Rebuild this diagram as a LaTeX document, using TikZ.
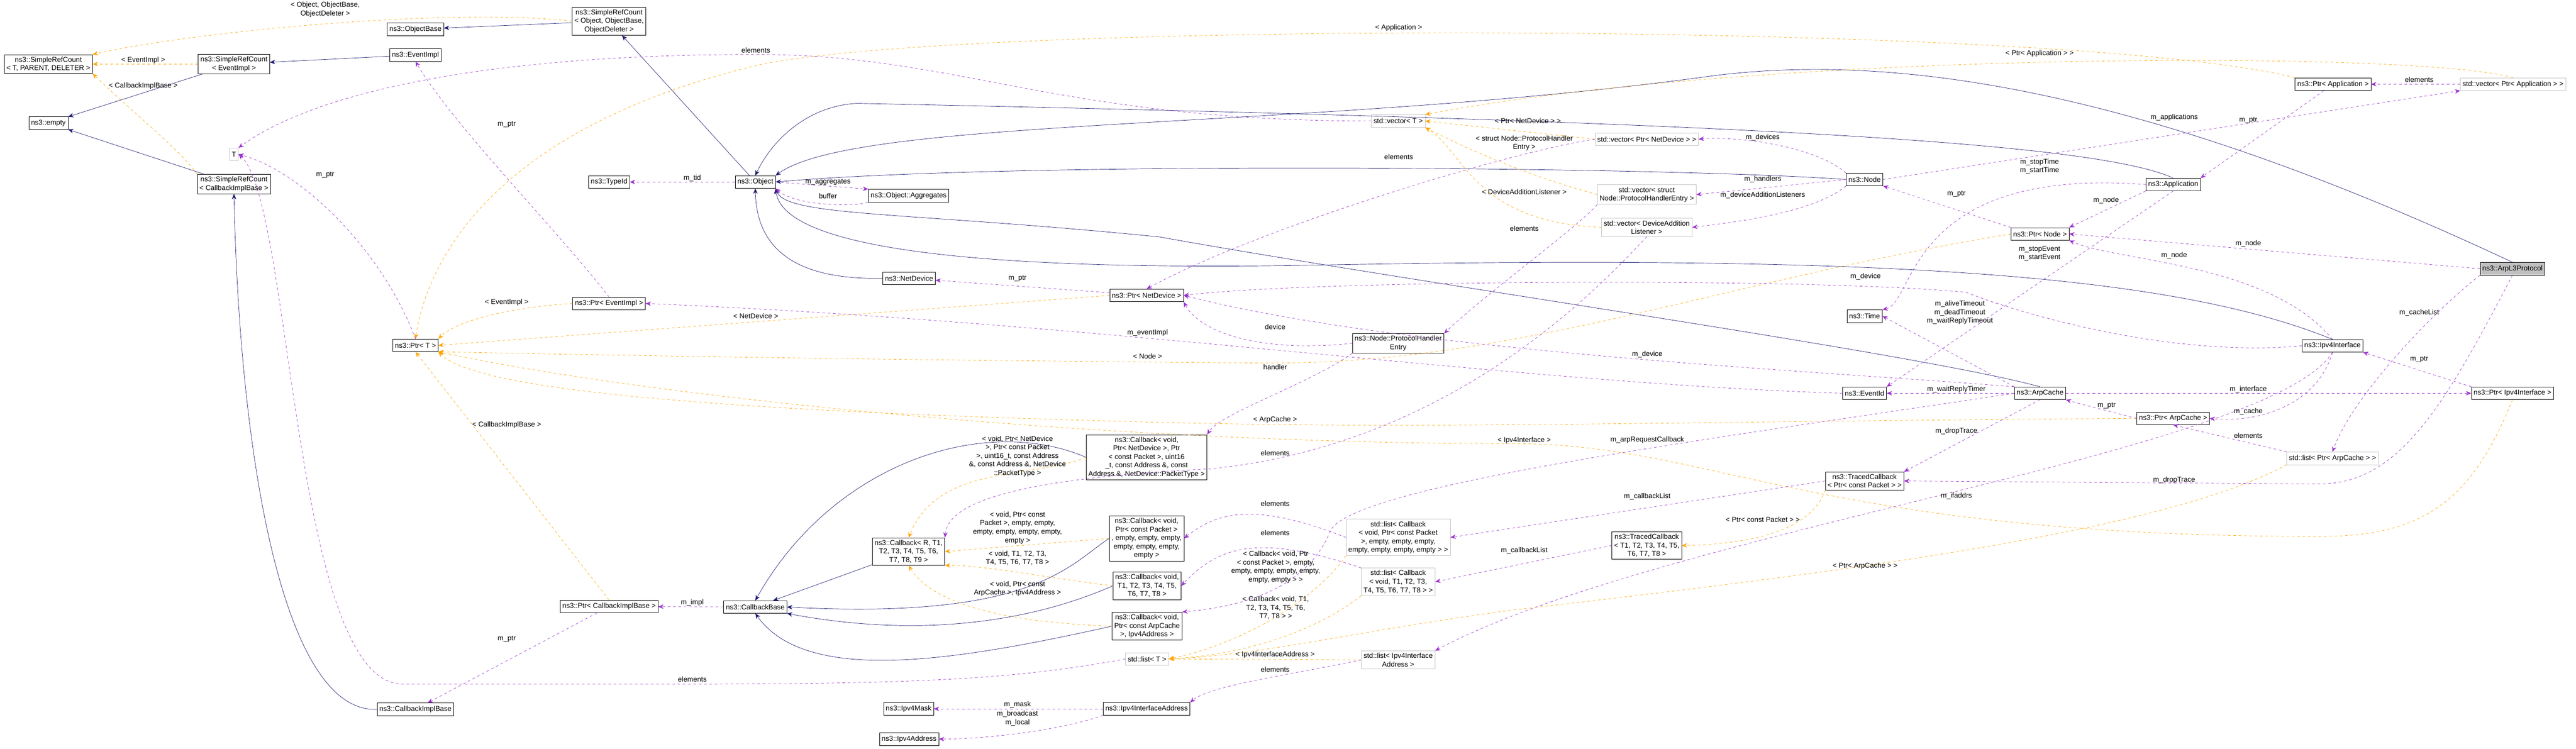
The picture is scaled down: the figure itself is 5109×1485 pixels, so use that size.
\documentclass[tikz,border=0pt]{standalone}
\usepackage{fontspec}
\setmainfont{Liberation Sans}
\usetikzlibrary{arrows.meta}
\definecolor{inhcol}{HTML}{191970}
\definecolor{usecol}{HTML}{9A32CD}
\definecolor{tplcol}{HTML}{FFA500}
\tikzset{
	cls/.style={draw=black, fill=white, align=center, inner sep=2.5pt, minimum height=5mm, font=\fontsize{8}{9.6}\selectfont},
	ext/.style={cls, draw=gray!45},
	cur/.style={cls, fill=gray!50},
	lbl/.style={align=center, inner sep=0pt, font=\fontsize{8}{9.6}\selectfont},
	inh/.style={draw=inhcol, -{Stealth[length=6pt,width=5pt]}},
	use/.style={draw=usecol, dashed, -{Stealth[length=6pt,width=5pt]}},
	tpl/.style={draw=tplcol, dashed, -{Stealth[length=6pt,width=5pt]}}
}
\begin{document}
\begin{tikzpicture}[x=0.2mm, y=-0.2mm]
	\useasboundingbox (0,0) rectangle (5109,1485);

	% classes
	\node[cls] (srctpd) at (96,127) {ns3::SimpleRefCount\\< T, PARENT, DELETER >};
	\node[cls] (srcevent) at (464,127) {ns3::SimpleRefCount\\< EventImpl >};
	\node[cls] (objbase) at (824,58) {ns3::ObjectBase};
	\node[cls] (srcobj) at (1208,42) {ns3::SimpleRefCount\\< Object, ObjectBase,\\ObjectDeleter >};
	\node[cls] (eventimpl) at (824,109) {ns3::EventImpl};
	\node[cls] (empty) at (96,244) {ns3::empty};
	\node[ext] (t) at (464,306) {T};
	\node[cls] (srccbimpl) at (464,365) {ns3::SimpleRefCount\\< CallbackImplBase >};
	\node[cls] (typeid) at (1208,361) {ns3::TypeId};
	\node[cls] (ptrevent) at (1208,602) {ns3::Ptr< EventImpl >};
	\node[cls] (ptrt) at (824,685) {ns3::Ptr< T >};
	\node[cls] (ptrcbimpl) at (1208,1203) {ns3::Ptr< CallbackImplBase >};
	\node[cls] (cbimpl) at (824,1407) {ns3::CallbackImplBase};
	\node[cls] (object) at (1498,361) {ns3::Object};
	\node[cls] (aggr) at (1802,388) {ns3::Object::Aggregates};
	\node[cls] (netdev) at (1803,552) {ns3::NetDevice};
	\node[cls] (ptrnetdev) at (2274,586) {ns3::Ptr< NetDevice >};
	\node[cls] (cbnetdev) at (2274,907) {ns3::Callback< void,\\Ptr< NetDevice >, Ptr\\< const Packet >, uint16\\\_t, const Address \&, const\\Address \&, NetDevice::PacketType >};
	\node[cls] (cbr) at (1802,1094) {ns3::Callback< R, T1,\\T2, T3, T4, T5, T6,\\T7, T8, T9 >};
	\node[cls] (cbpacket) at (2274,1068) {ns3::Callback< void,\\Ptr< const Packet >\\, empty, empty, empty,\\empty, empty, empty,\\empty >};
	\node[cls] (cbt) at (2275,1162) {ns3::Callback< void,\\T1, T2, T3, T4, T5,\\T6, T7, T8 >};
	\node[cls] (cbarp) at (2275,1242) {ns3::Callback< void,\\Ptr< const ArpCache\\>, Ipv4Address >};
	\node[cls] (cbbase) at (1498,1204) {ns3::CallbackBase};
	\node[ext] (listt) at (2275,1307) {std::list< T >};
	\node[cls] (mask) at (1802,1406) {ns3::Ipv4Mask};
	\node[cls] (ifaddr) at (2274,1406) {ns3::Ipv4InterfaceAddress};
	\node[cls] (addr) at (1803,1466) {ns3::Ipv4Address};
	\node[ext] (vect) at (2773,240) {std::vector< T >};
	\node[ext] (vecnetdev) at (3266,276) {std::vector< Ptr< NetDevice > >};
	\node[cls] (node) at (3698,356) {ns3::Node};
	\node[ext] (vecphe) at (3266,386) {std::vector< struct\\Node::ProtocolHandlerEntry >};
	\node[ext] (vecdal) at (3266,451) {std::vector< DeviceAddition\\Listener >};
	\node[cls] (phe) at (2773,681) {ns3::Node::ProtocolHandler\\Entry};
	\node[cls] (time) at (3698,627) {ns3::Time};
	\node[cls] (ptrapp) at (4627,167) {ns3::Ptr< Application >};
	\node[ext] (vecapp) at (4984,167) {std::vector< Ptr< Application > >};
	\node[cls] (app) at (4310,366) {ns3::Application};
	\node[cls] (ptrnode) at (4046,464) {ns3::Ptr< Node >};
	\node[cur] (arpl3) at (4983,533) {ns3::ArpL3Protocol};
	\node[cls] (ipv4if) at (4626,686) {ns3::Ipv4Interface};
	\node[cls] (eventid) at (3698,780) {ns3::EventId};
	\node[cls] (tcpacket) at (3698,954) {ns3::TracedCallback\\< Ptr< const Packet > >};
	\node[ext] (listcbpacket) at (2773,1066) {std::list< Callback\\< void, Ptr< const Packet\\>, empty, empty, empty,\\empty, empty, empty, empty > >};
	\node[cls] (tct) at (3266,1082) {ns3::TracedCallback\\< T1, T2, T3, T4, T5,\\T6, T7, T8 >};
	\node[ext] (listcbt) at (2773,1154) {std::list< Callback\\< void, T1, T2, T3,\\T4, T5, T6, T7, T8 > >};
	\node[ext] (listifaddr) at (2773,1309) {std::list< Ipv4Interface\\Address >};
	\node[cls] (arpcache) at (4046,780) {ns3::ArpCache};
	\node[cls] (ptrarp) at (4310,830) {ns3::Ptr< ArpCache >};
	\node[cls] (ptripv4if) at (4983,780) {ns3::Ptr< Ipv4Interface >};
	\node[ext] (listptrarp) at (4626,909) {std::list< Ptr< ArpCache > >};

	% inheritance
	\draw[inh] (srcobj) -- (objbase);
	\draw[inh] (eventimpl) -- (srcevent);
	\draw[inh] (srcevent) -- (empty);
	\draw[inh] (srccbimpl) -- (empty);
	\draw[inh] (cbimpl.west) .. controls (560,1415) and (475,900) .. (srccbimpl.south);
	\draw[inh] (object) -- (srcobj);
	\draw[inh] (netdev.west) .. controls (1560,556) and (1500,480) .. (object.south);
	\draw[inh] (node.west) .. controls (3300,330) and (2000,320) .. (object.east);
	\draw[inh] (app.north) .. controls (4150,280) and (3400,240) .. (1700,205) .. controls (1600,210) and (1530,280) .. (object.north);
	\draw[inh] (arpl3.north) .. controls (4300,200) and (3800,100) .. (3400,150) .. controls (2600,260) and (1700,230) .. (object.north east);
	\draw[inh] (ipv4if.north) .. controls (4300,540) and (3700,505) .. (2600,526) .. controls (1800,540) and (1550,470) .. (object.south east);
	\draw[inh] (arpcache.north) .. controls (3800,700) and (2800,560) .. (2300,470) .. controls (1800,420) and (1560,430) .. (object.south east);
	\draw[inh] (cbnetdev.west) .. controls (1950,820) and (1650,920) .. (cbbase.north);
	\draw[inh] (cbr) -- (cbbase);
	\draw[inh] (cbpacket.west) .. controls (2120,1120) and (2050,1230) .. (cbbase.east);
	\draw[inh] (cbt.west) .. controls (2120,1200) and (1900,1280) .. (cbbase.south east);
	\draw[inh] (cbarp.west) .. controls (1900,1310) and (1600,1360) .. (cbbase.south);

	% template instances
	\draw[tpl] (srcobj.west) .. controls (900,15) and (400,60) .. (srctpd.north east);
	\draw[tpl] (srcevent) -- (srctpd);
	\draw[tpl] (srccbimpl.north west) .. controls (360,300) and (260,220) .. (srctpd.south east);
	\draw[tpl] (ptrevent.west) .. controls (1000,610) and (900,640) .. (ptrt.north east);
	\draw[tpl] (ptrapp.north west) .. controls (4100,40) and (1900,40) .. (1500,130) .. controls (1000,250) and (850,500) .. (ptrt.north);
	\draw[tpl] (ptrnetdev.west) -- (ptrt.east);
	\draw[tpl] (ptrnode.west) .. controls (3400,560) and (3000,725) .. (2500,720) .. controls (1500,712) and (1000,700) .. (ptrt.south east);
	\draw[tpl] (ptrarp.west) .. controls (3400,835) and (2900,850) .. (2400,840) .. controls (1500,820) and (950,780) .. (ptrt.south east);
	\draw[tpl] (ptripv4if.south) .. controls (4900,1000) and (4800,1064) .. (4600,1064) .. controls (3600,1064) and (3400,880) .. (3000,880) .. controls (2200,880) and (1300,790) .. (ptrt.south east);
	\draw[tpl] (ptrcbimpl.north) -- (ptrt.south);
	\draw[tpl] (vecapp.north) .. controls (4800,100) and (3500,100) .. (vect.north east);
	\draw[tpl] (vecnetdev.west) -- (vect.east);
	\draw[tpl] (vecphe.west) .. controls (3000,340) and (2880,280) .. (vect.south east);
	\draw[tpl] (vecdal.west) .. controls (2920,440) and (2905,300) .. (vect.south east);
	\draw[tpl] (cbnetdev.west) .. controls (2050,950) and (1860,920) .. (cbr.north);
	\draw[tpl] (cbpacket.west) -- (cbr.east);
	\draw[tpl] (cbt.west) .. controls (2100,1150) and (1950,1120) .. (cbr.south east);
	\draw[tpl] (cbarp.west) .. controls (2000,1235) and (1850,1200) .. (cbr.south);
	\draw[tpl] (tcpacket.south west) .. controls (3590,1060) and (3450,1080) .. (tct.east);
	\draw[tpl] (listcbpacket.south west) .. controls (2600,1200) and (2450,1280) .. (listt.east);
	\draw[tpl] (listcbt.south west) .. controls (2600,1260) and (2450,1300) .. (listt.east);
	\draw[tpl] (listifaddr.west) -- (listt.east);
	\draw[tpl] (listptrarp.south west) .. controls (4300,1050) and (3700,1130) .. (3000,1210) .. controls (2700,1250) and (2500,1300) .. (listt.east);

	% members
	\draw[use] (ptrevent.north) .. controls (1100,450) and (900,250) .. (eventimpl.south);
	\draw[use] (ptrt.north) .. controls (760,500) and (600,340) .. (t.east);
	\draw[use] (vect.west) .. controls (2100,240) and (1900,108) .. (1500,108) .. controls (900,108) and (600,200) .. (t.north east);
	\draw[use] (listt.west) .. controls (2000,1350) and (1800,1357) .. (1300,1357) -- (800,1357) .. controls (580,1360) and (580,400) .. (t.east);
	\draw[use] (ptrcbimpl) -- (cbimpl);
	\draw[use] (object) -- (typeid);
	\draw[use] (object.east) -- (aggr.north west);
	\draw[use] (aggr.south west) .. controls (1700,410) and (1580,410) .. (object.south east);
	\draw[use] (ptrnetdev) -- (netdev);
	\draw[use] (ptrnode.north west) -- (node.south east);
	\draw[use] (ptrapp) -- (app.north east);
	\draw[use] (ptrarp.west) .. controls (4200,820) and (4120,800) .. (arpcache.south east);
	\draw[use] (ptripv4if.north west) -- (ipv4if.south east);
	\draw[use] (vecnetdev.west) .. controls (3000,300) and (2500,450) .. (ptrnetdev.north);
	\draw[use] (node.north west) .. controls (3600,290) and (3450,270) .. (vecnetdev.east);
	\draw[use] (node.west) -- (vecphe.east);
	\draw[use] (node.south west) .. controls (3600,420) and (3450,440) .. (vecdal.east);
	\draw[use] (node.east) -- (vecapp.south west);
	\draw[use] (vecphe.south west) .. controls (3130,450) and (2950,580) .. (phe.north east);
	\draw[use] (vecdal.south) .. controls (3000,760) and (2700,900) .. (2400,930) .. controls (2000,950) and (1880,1000) .. (cbr.north east);
	\draw[use] (phe.west) .. controls (2500,700) and (2380,660) .. (ptrnetdev.south east);
	\draw[use] (phe.south west) .. controls (2600,760) and (2420,820) .. (cbnetdev.north east);
	\draw[use] (vecapp) -- (ptrapp);
	\draw[use] (app.west) .. controls (3780,330) and (3800,600) .. (time.north east);
	\draw[use] (app.south west) -- (ptrnode.north east);
	\draw[use] (app.south) -- (eventid.north east);
	\draw[use] (arpl3.west) -- (ptrnode.east);
	\draw[use] (ipv4if.north) .. controls (4500,520) and (4200,520) .. (ptrnode.south east);
	\draw[use] (arpl3.south west) .. controls (4800,640) and (4660,800) .. (listptrarp.north);
	\draw[use] (arpl3.south) .. controls (4850,800) and (4760,960) .. (4600,960) -- (tcpacket.east);
	\draw[use] (ipv4if.west) .. controls (4300,710) and (4000,620) .. (3900,580) .. controls (3600,550) and (2600,555) .. (ptrnetdev.east);
	\draw[use] (arpcache.north west) .. controls (3600,735) and (2800,700) .. (ptrnetdev.east);
	\draw[use] (ipv4if.south) .. controls (4600,790) and (4500,840) .. (ptrarp.east);
	\draw[use] (ipv4if.south) .. controls (4500,900) and (3300,1050) .. (listifaddr.north east);
	\draw[use] (arpcache.north west) -- (time.east);
	\draw[use] (arpcache) -- (eventid);
	\draw[use] (arpcache) -- (ptripv4if);
	\draw[use] (arpcache.south) -- (tcpacket.north east);
	\draw[use] (arpcache.west) .. controls (3400,870) and (2700,960) .. (2640,1050) .. controls (2600,1150) and (2500,1200) .. (cbarp.north east);
	\draw[use] (tcpacket.west) -- (listcbpacket.east);
	\draw[use] (tct.west) -- (listcbt.east);
	\draw[use] (listcbpacket.west) .. controls (2500,1000) and (2420,1010) .. (cbpacket.east);
	\draw[use] (listcbt.north west) .. controls (2500,1060) and (2420,1080) .. (cbt.east);
	\draw[use] (listifaddr.west) .. controls (2550,1340) and (2400,1360) .. (ifaddr.north east);
	\draw[use] (listptrarp.north west) -- (ptrarp.south);
	\draw[use] (cbbase) -- (ptrcbimpl);
	\draw[use] (ifaddr) -- (mask);
	\draw[use] (ifaddr.south west) .. controls (2100,1450) and (1950,1466) .. (addr.east);
	\draw[use] (eventid.west) .. controls (3000,760) and (2200,640) .. (ptrevent.east);

	% labels
	\node[lbl] (l01) at (645,19) {< Object, ObjectBase,\\ObjectDeleter >};
	\node[lbl] (l02) at (284,119) {< EventImpl >};
	\node[lbl] (l03) at (284,171) {< CallbackImplBase >};
	\node[lbl] (l04) at (1005,247) {m\_ptr};
	\node[lbl] (l05) at (645,347) {m\_ptr};
	\node[lbl] (l06) at (1005,600) {< EventImpl >};
	\node[lbl] (l07) at (1499,100) {elements};
	\node[lbl] (l08) at (1373,353) {m\_tid};
	\node[lbl] (l09) at (1642,361) {m\_aggregates};
	\node[lbl] (l10) at (1642,389) {buffer};
	\node[lbl] (l11) at (2018,552) {m\_ptr};
	\node[lbl] (l12) at (1499,627) {< NetDevice >};
	\node[lbl] (l13) at (2276,660) {m\_eventImpl};
	\node[lbl] (l14) at (2529,648) {device};
	\node[lbl] (l15) at (2276,707) {< Node >};
	\node[lbl] (l16) at (2529,728) {handler};
	\node[lbl] (l17) at (2774,55) {< Application >};
	\node[lbl] (l18) at (3030,240) {< Ptr< NetDevice > >};
	\node[lbl] (l19) at (3023,284) {< struct Node::ProtocolHandler\\Entry >};
	\node[lbl] (l20) at (2774,311) {elements};
	\node[lbl] (l21) at (3496,273) {m\_devices};
	\node[lbl] (l22) at (3496,355) {m\_handlers};
	\node[lbl] (l23) at (3496,387) {m\_deviceAdditionListeners};
	\node[lbl] (l24) at (3023,381) {< DeviceAdditionListener >};
	\node[lbl] (l25) at (3023,453) {elements};
	\node[lbl] (l26) at (3700,549) {m\_device};
	\node[lbl] (l27) at (3267,703) {m\_device};
	\node[lbl] (l28) at (3880,385) {m\_ptr};
	\node[lbl] (l29) at (4045,106) {< Ptr< Application > >};
	\node[lbl] (l30) at (4798,158) {elements};
	\node[lbl] (l31) at (4312,233) {m\_applications};
	\node[lbl] (l32) at (4459,239) {m\_ptr};
	\node[lbl] (l33) at (4045,330) {m\_stopTime\\m\_startTime};
	\node[lbl] (l34) at (4177,397) {m\_node};
	\node[lbl] (l35) at (4045,503) {m\_stopEvent\\m\_startEvent};
	\node[lbl] (l36) at (4459,483) {m\_node};
	\node[lbl] (l37) at (4312,507) {m\_node};
	\node[lbl] (l38) at (3887,620) {m\_aliveTimeout\\m\_deadTimeout\\m\_waitReplyTimeout};
	\node[lbl] (l39) at (4798,620) {m\_cacheList};
	\node[lbl] (l40) at (4798,713) {m\_ptr};
	\node[lbl] (l41) at (1005,843) {< CallbackImplBase >};
	\node[lbl] (l42) at (1005,1267) {m\_ptr};
	\node[lbl] (l43) at (2018,905) {< void, Ptr< NetDevice\\>, Ptr< const Packet\\>, uint16\_t, const Address\\\&, const Address \&, NetDevice\\::PacketType >};
	\node[lbl] (l44) at (2018,1047) {< void, Ptr< const\\Packet >, empty, empty,\\empty, empty, empty, empty,\\empty >};
	\node[lbl] (l45) at (2018,1107) {< void, T1, T2, T3,\\T4, T5, T6, T7, T8 >};
	\node[lbl] (l46) at (2018,1168) {< void, Ptr< const\\ArpCache >, Ipv4Address >};
	\node[lbl] (l47) at (1373,1195) {m\_impl};
	\node[lbl] (l48) at (1373,1347) {elements};
	\node[lbl] (l49) at (2529,899) {elements};
	\node[lbl] (l50) at (2529,833) {< ArpCache >};
	\node[lbl] (l51) at (2529,999) {elements};
	\node[lbl] (l52) at (2529,1057) {elements};
	\node[lbl] (l53) at (2530,1125) {< Callback< void, Ptr\\< const Packet >, empty,\\empty, empty, empty, empty,\\empty, empty > >};
	\node[lbl] (l54) at (2530,1206) {< Callback< void, T1,\\T2, T3, T4, T5, T6,\\T7, T8 > >};
	\node[lbl] (l55) at (2529,1299) {< Ipv4InterfaceAddress >};
	\node[lbl] (l56) at (2529,1328) {elements};
	\node[lbl] (l57) at (2018,1398) {m\_mask};
	\node[lbl] (l58) at (2018,1425) {m\_broadcast\\m\_local};
	\node[lbl] (l59) at (3023,874) {< Ipv4Interface >};
	\node[lbl] (l60) at (3267,873) {m\_arpRequestCallback};
	\node[lbl] (l61) at (3267,985) {m\_callbackList};
	\node[lbl] (l62) at (3496,1031) {< Ptr< const Packet > >};
	\node[lbl] (l63) at (3023,1092) {m\_callbackList};
	\node[lbl] (l64) at (3699,1123) {< Ptr< ArpCache > >};
	\node[lbl] (l65) at (3880,772) {m\_waitReplyTimer};
	\node[lbl] (l66) at (3880,855) {m\_dropTrace};
	\node[lbl] (l67) at (3880,984) {m\_ifaddrs};
	\node[lbl] (l68) at (4459,772) {m\_interface};
	\node[lbl] (l69) at (4178,805) {m\_ptr};
	\node[lbl] (l70) at (4459,816) {m\_cache};
	\node[lbl] (l71) at (4459,864) {elements};
	\node[lbl] (l72) at (4312,952) {m\_dropTrace};
\end{tikzpicture}
\end{document}
